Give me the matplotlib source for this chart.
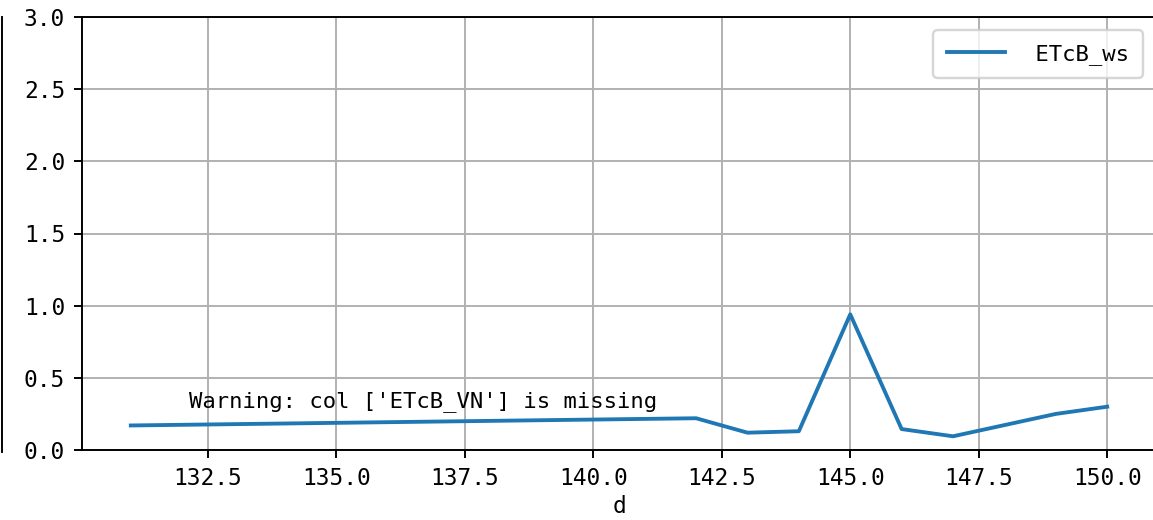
import matplotlib
matplotlib.use("Agg")
import matplotlib.pyplot as plt
from matplotlib.lines import Line2D

# values
d = [131, 142, 143, 144, 145, 146, 147, 149, 150]
etcb_ws = [0.17, 0.22, 0.12, 0.13, 0.94, 0.145, 0.095, 0.25, 0.30]
missing_cols = ['ETcB_VN']

plt.rcParams['font.family'] = ['DejaVu Sans Mono']
plt.rcParams['font.size'] = 9

W, H, DPI = 1153, 520, 173
fig = plt.figure(figsize=(W / DPI, H / DPI), dpi=DPI)
ax = fig.add_axes([82 / W, 70 / H, (1156 - 82) / W, (450 - 17) / H])

ax.plot(d, etcb_ws, color='#1f77b4', lw=1.6, label=' ETcB_ws')
ax.set_xlim(130.05, 150.95)
ax.set_ylim(0, 3)
ax.set_xticks([132.5, 135.0, 137.5, 140.0, 142.5, 145.0, 147.5, 150.0])
ax.set_yticks([0.0, 0.5, 1.0, 1.5, 2.0, 2.5, 3.0])
ax.tick_params(labelsize=9.5)
ax.grid(True, color='#b0b0b0', lw=0.8)
ax.set_xlabel('d', fontsize=9.5, labelpad=2)
ax.text(0.1, 0.1, "Warning: col %s is missing" % missing_cols, transform=ax.transAxes,
        fontsize=9.25)
ax.legend(loc='upper right', fontsize=9.25, handlelength=2.6,
          borderpad=0.6, borderaxespad=0.6)

# stray spine from the neighbouring panel on the left edge
fig.add_artist(Line2D([1.5 / W, 1.5 / W], [1 - 17 / H, 1 - 452 / H], color='black', lw=0.8))

fig.savefig('out.png', dpi=DPI)
